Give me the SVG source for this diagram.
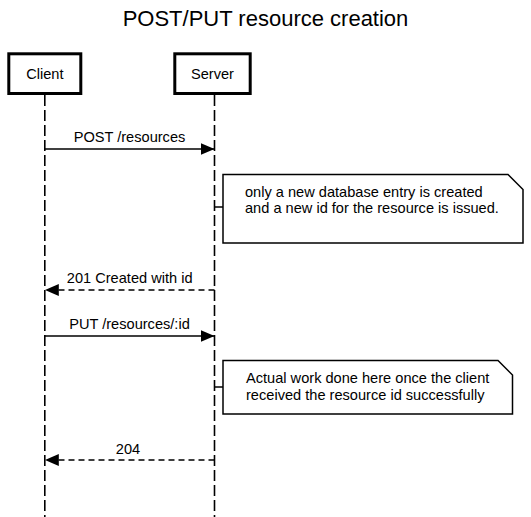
<svg xmlns="http://www.w3.org/2000/svg" width="531" height="517" viewBox="0 0 531 517">
<defs>
<style>
text{font-family:"Liberation Sans",Arial,sans-serif;fill:#000}
.t{font-size:14.6px}
.actor{fill:#fff;stroke:#000;stroke-width:3}
.life{stroke:#000;stroke-width:1.6;stroke-dasharray:11,4;fill:none}
.msg{stroke:#000;stroke-width:1.5;fill:none}
.dash{stroke-dasharray:6,4}
.note{fill:#fff;stroke:#000;stroke-width:1.5}
</style>
<marker id="ah" viewBox="0 0 14 12" refX="14" refY="6" markerWidth="14" markerHeight="12" markerUnits="userSpaceOnUse" orient="auto">
<path d="M0,0 L14,6 L0,12 Z" fill="#000"/>
</marker>
</defs>
<rect width="531" height="517" fill="#fff"/>
<text x="265.5" y="26" text-anchor="middle" style="font-size:22px">POST/PUT resource creation</text>
<g id="lifelines">
<line class="life" x1="44.8" y1="95" x2="44.8" y2="517"/>
<line class="life" x1="214.5" y1="95" x2="214.5" y2="517"/>
</g>
<g id="client">
<rect class="actor" x="8.8" y="53.8" width="72" height="39.7"/>
<text class="t" x="44.8" y="79.3" text-anchor="middle">Client</text>
</g>
<g id="server">
<rect class="actor" x="174.8" y="53.8" width="75.4" height="39.7"/>
<text class="t" x="212.5" y="79.3" text-anchor="middle">Server</text>
</g>
<g id="connectors">
<line class="msg" x1="44.8" y1="149" x2="214.5" y2="149" marker-end="url(#ah)"/>
<text class="t" x="129.5" y="142" text-anchor="middle">POST /resources</text>
<line class="msg dash" x1="214.5" y1="290" x2="44.8" y2="290" marker-end="url(#ah)"/>
<text class="t" x="129.7" y="283" text-anchor="middle">201 Created with id</text>
<line class="msg" x1="44.8" y1="336" x2="214.5" y2="336" marker-end="url(#ah)"/>
<text class="t" x="129.5" y="329" text-anchor="middle">PUT /resources/:id</text>
<line class="msg dash" x1="214.5" y1="460" x2="44.8" y2="460" marker-end="url(#ah)"/>
<text class="t" x="128" y="454" text-anchor="middle">204</text>
<line class="msg" x1="214.5" y1="207" x2="223" y2="207"/>
<line class="msg" x1="214.5" y1="387" x2="223" y2="387"/>
</g>
<g id="note1">
<path class="note" d="M223,174.5 H508 L523,189.5 V243 H223 Z"/>
<text class="t" x="245" y="196.7">only a new database entry is created</text>
<text class="t" x="245" y="213.3">and a new id for the resource is issued.</text>
</g>
<g id="note2">
<path class="note" d="M223,360.5 H498 L512.5,375 V414 H223 Z"/>
<text class="t" x="246" y="383.3">Actual work done here once the client</text>
<text class="t" x="246" y="400">received the resource id successfully</text>
</g>
</svg>
